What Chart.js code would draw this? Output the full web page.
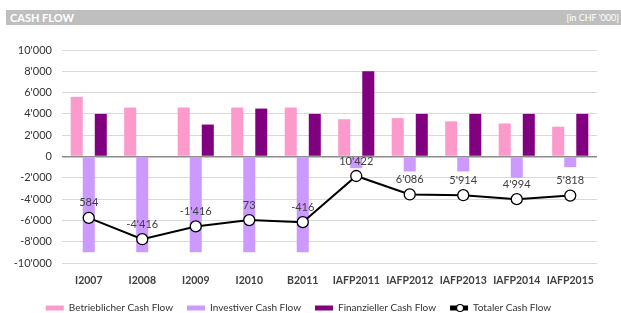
<!DOCTYPE html>
<html lang="de">

<head>
    <meta charset="UTF-8">
    <title>Cash Flow</title>
    <script src="https://cdn.jsdelivr.net/npm/chart.js@4.4.0/dist/chart.umd.min.js"></script>
    <style>
        body { margin: 0; background: #fff; }
        #wrap { position: relative; width: 621px; height: 313px; }
        #head {
            position: absolute; left: 6px; top: 10px; width: 615px; height: 15px;
            background: #bfbfbf; color: #fff; font-family: Lato, sans-serif;
        }
        #head .l { position: absolute; left: 4px; top: 1px; font-size: 11px; font-weight: bold; }
        #head .r { position: absolute; right: 2px; top: 2px; font-size: 9px; }
    </style>
</head>

<body>
    <div id="wrap">
        <canvas id="myChart" width="621" height="313"></canvas>
        <div id="head"><span class="l">CASH FLOW</span><span class="r">[in CHF '000]</span></div>
    </div>

    <script>
        const years = ['I2007', 'I2008', 'I2009', 'I2010', 'B2011', 'IAFP2011', 'IAFP2012', 'IAFP2013', 'IAFP2014', 'IAFP2015']
        const betrieblich = [5600, 4600, 4600, 4600, 4600, 3500, 3600, 3300, 3100, 2800]
        const investiv = [-9000, -9000, -9000, -9000, -9000, -1100, -1400, -1400, -2000, -1000]
        const finanziell = [4000, 0, 3000, 4500, 4000, 8000, 4000, 4000, 4000, 4000]
        const total = [584, -4416, -1416, 73, -416, 10422, 6086, 5914, 4994, 5818]

        function fmt(v) {
            let s = Math.abs(Math.round(v)).toString().replace(/\B(?=(\d{3})+(?!\d))/g, "'")
            return (v < 0 ? '-' : '') + s
        }

        // labels above the points of the total line + circle in legend
        const extras = {
            id: 'extras',
            afterDatasetsDraw(chart) {
                let ctx = chart.ctx
                let meta = chart.getDatasetMeta(3)
                ctx.save()
                ctx.font = '11px Lato'
                ctx.fillStyle = '#404040'
                ctx.textAlign = 'center'
                ctx.textBaseline = 'middle'
                meta.data.forEach((pt, i) => {
                    ctx.fillText(fmt(total[i]), pt.x, pt.y - 15)
                })
                ctx.restore()
            },
            afterDraw(chart) {
                let lg = chart.legend
                let idx = lg.legendItems.findIndex(it => it.datasetIndex === 3)
                if (idx < 0) return
                let box = lg.legendHitBoxes[idx]
                let ctx = chart.ctx
                ctx.save()
                ctx.beginPath()
                ctx.arc(box.left + 10, box.top + box.height / 2, 3.5, 0, Math.PI * 2)
                ctx.fillStyle = '#fff'
                ctx.fill()
                ctx.lineWidth = 1.2
                ctx.strokeStyle = '#000'
                ctx.stroke()
                ctx.restore()
            }
        }

        var ctx = document.getElementById('myChart').getContext('2d');
        window.chart = new Chart(ctx, {
            type: 'bar',
            data: {
                labels: years,
                datasets: [{
                    label: 'Betrieblicher Cash Flow',
                    backgroundColor: '#fb9acb',
                    data: betrieblich,
                    order: 1
                }, {
                    label: 'Investiver Cash Flow',
                    backgroundColor: '#cc99ff',
                    data: investiv,
                    order: 1
                }, {
                    label: 'Finanzieller Cash Flow',
                    backgroundColor: '#800080',
                    data: finanziell,
                    order: 1
                }, {
                    type: 'line',
                    label: 'Totaler Cash Flow',
                    data: total,
                    yAxisID: 'y1',
                    borderColor: '#000',
                    borderWidth: 2,
                    backgroundColor: '#000',
                    pointRadius: 5.5,
                    pointBackgroundColor: '#fff',
                    pointBorderColor: '#000',
                    pointBorderWidth: 1.3,
                    lineTension: 0,
                    order: 0
                }]
            },
            options: {
                responsive: false,
                animation: false,
                layout: { padding: { top: 50, right: 24, left: 0, bottom: -10 } },
                datasets: { bar: { barPercentage: 1, categoryPercentage: 0.675 } },
                scales: {
                    x: {
                        grid: { display: false },
                        border: { display: false },
                        afterFit(scale) { scale.height = 26 },
                        ticks: { color: '#404040', font: { family: 'Lato', size: 10.5, weight: 'bold' }, padding: 3, maxRotation: 0, autoSkip: false }
                    },
                    y: {
                        min: -10000, max: 10000,
                        afterFit(scale) { scale.width = 62 },
                        border: { display: false },
                        grid: {
                            color: c => c.tick && c.tick.value === 0 ? '#8c8c8c' : '#d9d9d9',
                            lineWidth: c => c.tick && c.tick.value === 0 ? 1.5 : 1,
                            drawTicks: false
                        },
                        ticks: {
                            stepSize: 2000, padding: 10, color: '#333',
                            font: { family: 'Lato', size: 11 },
                            callback: v => fmt(v)
                        }
                    },
                    y1: {
                        display: false,
                        min: -10000, max: 40000
                    }
                },
                plugins: {
                    tooltip: { enabled: false },
                    legend: {
                        position: 'bottom',
                        labels: {
                            boxWidth: 18, boxHeight: 5, padding: 14,
                            color: '#333',
                            font: { family: 'Lato', size: 10 },
                            sort: (a, b) => a.datasetIndex - b.datasetIndex,
                            generateLabels(chart) {
                                let items = Chart.defaults.plugins.legend.labels.generateLabels(chart)
                                items.forEach(it => {
                                    if (it.datasetIndex === 3) {
                                        it.fillStyle = '#000'
                                        it.strokeStyle = '#000'
                                        it.lineWidth = 0
                                    }
                                })
                                return items
                            }
                        }
                    }
                }
            },
            plugins: [extras]
        });
    </script>
</body>

</html>
